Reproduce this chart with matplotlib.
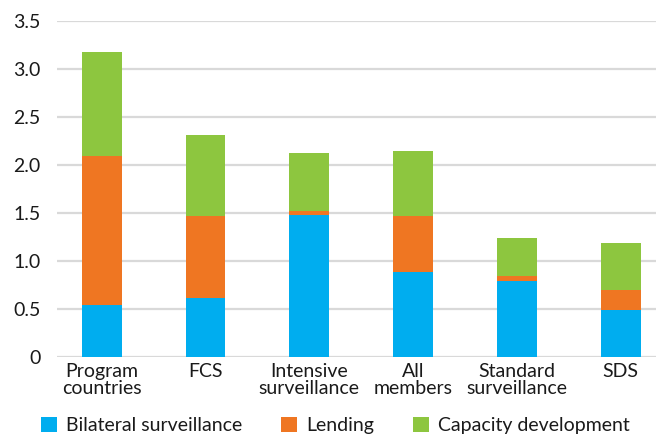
import matplotlib
matplotlib.use("Agg")
import matplotlib.pyplot as plt
import numpy as np

plt.rcParams['font.family'] = ['Lato', 'DejaVu Sans']

categories = ["Program\ncountries", "FCS", "Intensive\nsurveillance", "All\nmembers",
              "Standard\nsurveillance", "SDS"]
bilateral = [0.54, 0.62, 1.48, 0.89, 0.79, 0.49]
lending = [1.56, 0.85, 0.04, 0.58, 0.06, 0.21]
capacity = [1.08, 0.84, 0.61, 0.68, 0.39, 0.49]
yticks = [0, 0.5, 1.0, 1.5, 2.0, 2.5, 3.0, 3.5]
ytick_labels = ["0", "0.5", "1.0", "1.5", "2.0", "2.5", "3.0", "3.5"]

blue = "#00ADEF"
orange = "#EF7622"
green = "#8DC63F"

fig = plt.figure(figsize=(6.56, 4.41), dpi=100)
ax = fig.add_axes([0.087, 0.19, 0.913, 0.762])

x = np.arange(len(categories))
w = 0.385
b1 = np.array(bilateral)
b2 = b1 + np.array(lending)
ax.bar(x, bilateral, w, color=blue, label="Bilateral surveillance", zorder=3)
ax.bar(x, lending, w, bottom=b1, color=orange, label="Lending", zorder=3)
ax.bar(x, capacity, w, bottom=b2, color=green, label="Capacity development", zorder=3)

ax.set_ylim(0, 3.5)
ax.set_xlim(-0.43, 5.34)
ax.set_yticks(yticks)
ax.set_yticklabels(ytick_labels)
ax.set_xticks(x)
ax.set_xticklabels(categories, linespacing=1.05)
ax.yaxis.grid(True, color="#d9d9d9", linewidth=1.6, zorder=0)
ax.set_axisbelow(True)
for s in ax.spines.values():
    s.set_visible(False)
ax.tick_params(axis="both", length=0, labelsize=14, colors="#1a1a1a")
ax.tick_params(axis="y", pad=12)
ax.tick_params(axis="x", pad=4)

fig.legend(loc="center", bbox_to_anchor=(0.511, 0.035), ncol=3, frameon=False,
           fontsize=14, handlelength=0.82, handleheight=0.82, handletextpad=0.47,
           columnspacing=2.0, labelcolor="#1a1a1a")

fig.savefig("out.png", dpi=100)
